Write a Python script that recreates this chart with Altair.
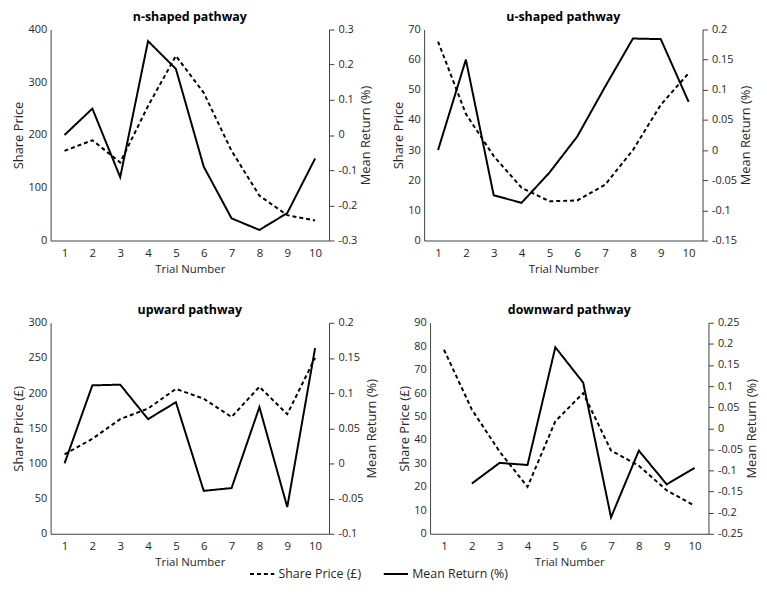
import altair as alt
import pandas as pd

trials = list(range(1, 11))

# n-shaped pathway
n_share = [170, 190, 148, 255, 350, 280, 170, 85, 48, 38]
n_ret = [0.0, 0.075, -0.12, 0.267, 0.188, -0.09, -0.237, -0.27, -0.222, -0.067]
# u-shaped pathway
u_share = [66, 42, 28, 17.5, 13, 13.3, 18.5, 30, 45, 55.5]
u_ret = [0.0, 0.15, -0.075, -0.0875, -0.0375, 0.0225, 0.105, 0.185, 0.184, 0.08]
# upward pathway
up_share = [113, 135, 163, 178, 206, 192, 166, 209, 170, 250]
up_ret = [0.0, 0.111, 0.112, 0.063, 0.087, -0.039, -0.035, 0.08, -0.062, 0.164]
# downward pathway
dn_share = [78.5, 53, 35, 20, 48, 60, 35.5, 29, 18.5, 12]
dn_ret = [None, -0.131, -0.082, -0.087, 0.192, 0.108, -0.211, -0.053, -0.133, -0.094]

series_names = ["Share Price (£)", "Mean Return (%)"]

FONT = "Open Sans"
TXT = "#262626"
AX = "#404040"


def panel(title, left_title, share, ret, ldom, lvals, rdom, rvals):
    df_s = pd.DataFrame({"trial": trials, "value": share, "series": series_names[0]})
    df_r = pd.DataFrame({"trial": trials, "value": ret, "series": series_names[1]}).dropna()
    x = alt.X("trial:O", title="Trial Number",
              scale=alt.Scale(type="point", padding=0.5),
              axis=alt.Axis(labelAngle=0, ticks=False, domainColor=AX, labelPadding=7,
                            titlePadding=5, labelFontSize=11.5, titleFontSize=11.5))
    dash = alt.StrokeDash("series:N",
                          scale=alt.Scale(domain=series_names, range=[[4, 3], [1, 0]]),
                          legend=alt.Legend(title=None, orient="none", legendX=200, legendY=536,
                                            direction="horizontal",
                                            symbolType="stroke", symbolStrokeColor="black",
                                            symbolStrokeWidth=2, symbolSize=600,
                                            labelFontSize=12.5, labelFont=FONT, labelColor=TXT,
                                            labelOffset=3, columnPadding=18))
    s = alt.Chart(df_s).mark_line(color="black", strokeWidth=2).encode(
        x=x,
        y=alt.Y("value:Q", title=left_title,
                scale=alt.Scale(domain=ldom, nice=False, zero=False),
                axis=alt.Axis(values=lvals, ticks=False, grid=False, domainColor=AX,
                              titlePadding=2)),
        strokeDash=dash,
    )
    r = alt.Chart(df_r).mark_line(color="black", strokeWidth=2).encode(
        x=x,
        y=alt.Y("value:Q", title="Mean Return (%)",
                scale=alt.Scale(domain=rdom, nice=False, zero=False),
                axis=alt.Axis(orient="right", values=rvals, ticks=True, tickSize=5,
                              grid=False, domainColor=AX, tickColor=AX, titleAngle=270,
                              titleBaseline="top", titlePadding=3,
                              labelExpr="'' + datum.value")),
        strokeDash=dash,
    )
    return alt.layer(s, r).resolve_scale(y="independent").properties(
        width=281, height=213,
        title=alt.Title(title, fontSize=12.5, fontWeight="bold", font=FONT, color="black", offset=0),
    )


p1 = panel("n-shaped pathway", "Share Price", n_share, n_ret, [0, 400], [0, 100, 200, 300, 400],
           [-0.3, 0.3], [-0.3, -0.2, -0.1, 0, 0.1, 0.2, 0.3])
p2 = panel("u-shaped pathway", "Share Price", u_share, u_ret, [0, 70], [0, 10, 20, 30, 40, 50, 60, 70],
           [-0.15, 0.2], [-0.15, -0.1, -0.05, 0, 0.05, 0.1, 0.15, 0.2])
p3 = panel("upward pathway", "Share Price (£)", up_share, up_ret, [0, 300], [0, 50, 100, 150, 200, 250, 300],
           [-0.1, 0.2], [-0.1, -0.05, 0, 0.05, 0.1, 0.15, 0.2])
p4 = panel("downward pathway", "Share Price (£)", dn_share, dn_ret, [0, 90], [0, 10, 20, 30, 40, 50, 60, 70, 80, 90],
           [-0.25, 0.25], [-0.25, -0.2, -0.15, -0.1, -0.05, 0, 0.05, 0.1, 0.15, 0.2, 0.25])

chart = alt.vconcat(
    alt.hconcat(p1, p2, spacing=19),
    alt.hconcat(p3, p4, spacing=19),
    spacing=29,
).properties(padding={"left": 5, "top": 0, "right": 0, "bottom": 0}).configure_axis(
    labelFont=FONT, titleFont=FONT, labelFontSize=11, titleFontSize=13,
    titleFontWeight="normal", labelColor=TXT, titleColor=TXT, labelPadding=4,
).configure_view(stroke=None)

chart.save("out.html", embed_options={"renderer": "svg", "actions": False})
